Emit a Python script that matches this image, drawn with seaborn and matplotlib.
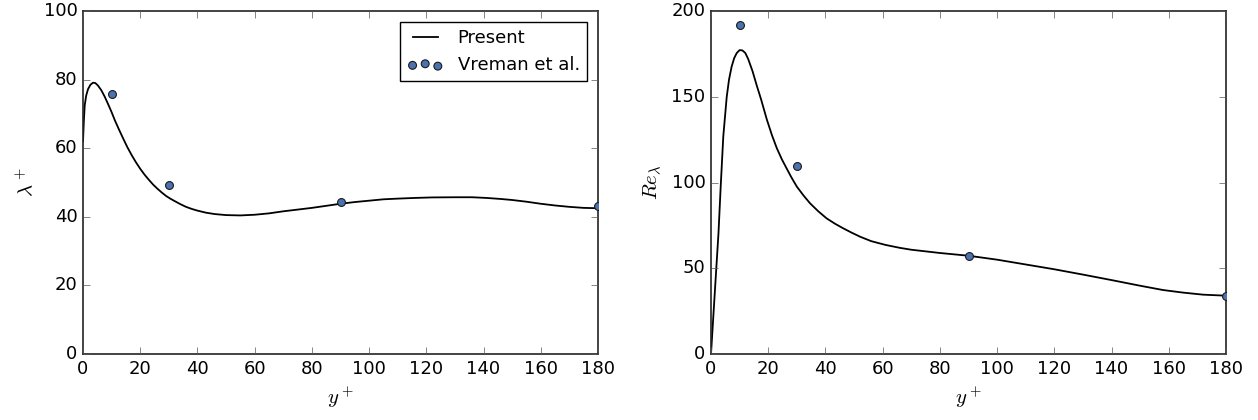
import matplotlib
matplotlib.use("Agg")
import matplotlib.pyplot as plt
import seaborn as sns
import numpy as np

plt.style.use("classic")

# Present DNS profiles (wall units)
lam_y = [0, 0.3, 0.6, 1.1, 1.75, 2.6, 3.5, 4.3, 5.2, 6.4, 7.6, 8.8, 9.9, 11.2,
         12.6, 14.0, 15.5, 17.0, 18.5, 20.0, 21.5, 23.0, 24.5, 26.0, 27.5,
         29.0, 30.5, 32.0, 34.0, 36.0, 38.0, 40.0, 43.0, 46.0, 50.0, 55.0,
         60.0, 65.0, 70.0, 75.0, 80.0, 85.0, 90.0, 95.0, 100.0, 105.0, 110.0,
         116.0, 122.0, 130.0, 136.0, 141.0, 146.0, 150.0, 155.0, 160.0,
         165.0, 170.0, 175.0, 180.0]
lam_val = [62.0, 68.0, 72.5, 75.3, 77.2, 78.5, 79.1, 79.0, 78.3, 76.9, 75.0,
           72.8, 70.7, 68.0, 65.4, 62.9, 60.3, 58.0, 55.9, 54.0, 52.3, 50.8,
           49.4, 48.2, 47.1, 46.1, 45.3, 44.6, 43.7, 42.9, 42.3, 41.8, 41.2,
           40.8, 40.5, 40.4, 40.6, 41.0, 41.6, 42.1, 42.6, 43.2, 43.8, 44.3,
           44.7, 45.1, 45.3, 45.5, 45.65, 45.7, 45.7, 45.5, 45.2, 44.9, 44.4,
           43.8, 43.3, 42.9, 42.6, 42.5]

re_y = [0, 1.0, 2.0, 2.6, 3.4, 4.3, 5.5, 6.3, 7.2, 8.1, 9.0, 10.0, 11.0, 12.0,
        13.0, 14.5, 16.0, 17.5, 19.5, 21.3, 23.0, 24.8, 26.5, 28.2, 30.0,
        32.3, 34.6, 37.5, 40.4, 43.3, 46.2, 49.1, 52.1, 56.0, 61.0, 66.0,
        70.0, 80.0, 90.0, 100.0, 110.0, 120.0, 130.0, 140.0, 150.0, 158.0,
        165.0, 172.0, 180.0]
re_val = [0, 27.0, 54.0, 70.0, 98.0, 127.0, 150.0, 160.0, 167.5, 172.5,
          175.5, 177.2, 177.0, 175.5, 172.0, 165.0, 156.5, 148.5, 136.8,
          127.6, 120.0, 113.4, 108.0, 102.7, 97.6, 92.5, 87.9, 83.2, 79.1,
          76.0, 73.3, 70.8, 68.4, 65.8, 63.6, 61.9, 60.8, 58.9, 57.3, 55.0,
          52.2, 49.4, 46.3, 43.1, 39.8, 37.3, 35.8, 34.6, 34.0]

# Reference data of Vreman et al.
ref_y = [10, 30, 90, 180]
ref_lam = [75.8, 49.2, 44.2, 43.1]
ref_re = [192.0, 109.8, 57.3, 34.0]

W, H = 1258, 420
fig = plt.figure(figsize=(W / 100, H / 100), dpi=100, facecolor="white")
ax1 = fig.add_axes([83 / W, 66 / H, 515 / W, 343 / H])
ax2 = fig.add_axes([711 / W, 66 / H, 515 / W, 343 / H])

marker_kw = dict(color="#4a72b0", edgecolor="#1a1a1a", linewidth=0.8, s=32,
                 zorder=3)

sns.lineplot(x=lam_y, y=lam_val, ax=ax1, color="black", linewidth=1.3,
             label="Present", sort=False, estimator=None)
sns.scatterplot(x=ref_y, y=ref_lam, ax=ax1, label="Vreman et al.", **marker_kw)
ax1.set_xlim(0, 180)
ax1.set_ylim(0, 100)
ax1.set_xticks(np.arange(0, 181, 20))
ax1.set_yticks(np.arange(0, 101, 20))
ax1.set_xlabel(r"$y^+$", fontsize=15)
ax1.set_ylabel(r"$\lambda^+$", fontsize=15)
ax1.legend(loc="upper right", fontsize=13, scatterpoints=3, frameon=True,
           fancybox=False, borderaxespad=0.6)

sns.lineplot(x=re_y, y=re_val, ax=ax2, color="black", linewidth=1.3,
             sort=False, estimator=None, legend=False)
sns.scatterplot(x=ref_y, y=ref_re, ax=ax2, legend=False, **marker_kw)
ax2.set_xlim(0, 180)
ax2.set_ylim(0, 200)
ax2.set_xticks(np.arange(0, 181, 20))
ax2.set_yticks(np.arange(0, 201, 50))
ax2.set_xlabel(r"$y^+$", fontsize=15)
ax2.set_ylabel(r"$Re_{\lambda}$", fontsize=15)

for ax in (ax1, ax2):
    ax.tick_params(labelsize=13, direction="in", top=True, right=True,
                   length=5, color="#555555")
    for sp in ax.spines.values():
        sp.set_linewidth(1.2)
        sp.set_color("#222222")

fig.savefig("out.png", dpi=100, facecolor="white")
